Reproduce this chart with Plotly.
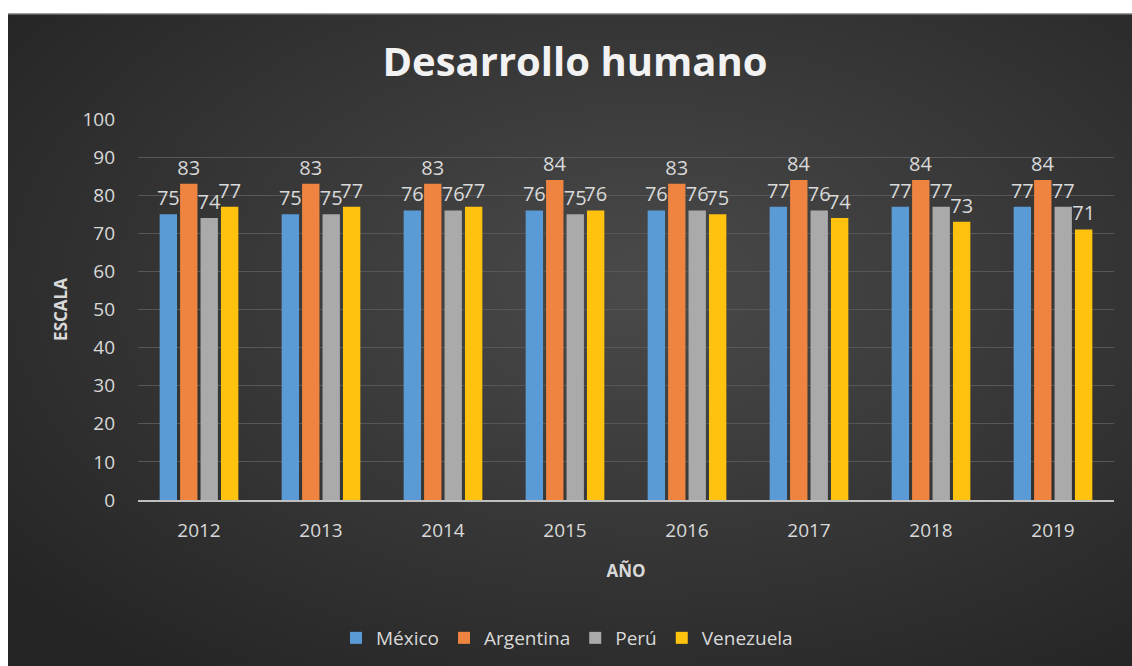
import base64
import plotly.graph_objects as go

years = ["2012", "2013", "2014", "2015", "2016", "2017", "2018", "2019"]
mexico = [75, 75, 76, 76, 76, 77, 77, 77]
argentina = [83, 83, 83, 84, 83, 84, 84, 84]
peru = [74, 75, 76, 75, 76, 76, 77, 77]
venezuela = [77, 77, 77, 76, 75, 74, 73, 71]

series = [
    ("México", mexico, "#5b9bd5"),
    ("Argentina", argentina, "#ef8440"),
    ("Perú", peru, "#aaaaaa"),
    ("Venezuela", venezuela, "#ffc20e"),
]

W, H = 1132, 666
ml, mr, mt, mb = 138, 18, 119, 166
pw, ph = W - ml - mr, H - mt - mb
left_gap, top_gap = 8, 13
extra = 30  # let the background run past the right/bottom edge

# dark radial background like the Excel style
bw, bh = W - left_gap + extra, H - top_gap + extra
svg = f"""<svg xmlns='http://www.w3.org/2000/svg' width='{bw}' height='{bh}' viewBox='0 0 {bw} {bh}' preserveAspectRatio='none'>
<defs><radialGradient id='g' cx='55%' cy='40%' r='70%'>
<stop offset='0%' stop-color='#4a4a4a'/><stop offset='100%' stop-color='#252525'/>
</radialGradient></defs>
<rect width='{bw}' height='{bh}' fill='url(#g)'/>
<rect width='{bw}' height='1.5' fill='#9a9a9a'/></svg>"""
bg = "data:image/svg+xml;base64," + base64.b64encode(svg.encode()).decode()

fig = go.Figure()
for name, vals, col in series:
    fig.add_trace(go.Bar(
        x=years, y=vals, name=name,
        marker=dict(color=col, line=dict(width=0)),
        text=vals, textposition="outside",
        textfont=dict(color="#d9d9d9", size=20),
        constraintext="none", cliponaxis=False,
    ))

# white page strip on the top and left, as in the screenshot
strips = [
    dict(type="rect", xref="paper", yref="paper", layer="above", line=dict(width=0),
         fillcolor="white", x0=-ml / pw - 0.01, x1=1 + mr / pw + 0.01,
         y0=1 + (mt - top_gap) / ph, y1=1 + mt / ph + 0.01),
    dict(type="rect", xref="paper", yref="paper", layer="above", line=dict(width=0),
         fillcolor="white", x0=-ml / pw - 0.01, x1=(left_gap - ml) / pw,
         y0=-mb / ph - 0.01, y1=1 + mt / ph + 0.01),
]

fig.update_layout(
    width=W, height=H,
    margin=dict(l=ml, r=mr, t=mt, b=mb),
    paper_bgcolor="#282828",
    plot_bgcolor="rgba(0,0,0,0)",
    font=dict(family="Open Sans, sans-serif", color="#d9d9d9", size=18),
    title=dict(text="<b>Desarrollo humano</b>", x=575 / W, xanchor="center",
               y=1 - 62 / H, yanchor="middle",
               font=dict(size=40, color="#f2f2f2", family="Open Sans")),
    barmode="group", bargap=0.33, bargroupgap=0.15,
    showlegend=True,
    legend=dict(orientation="h", xref="container", yref="container",
                x=567 / W, xanchor="center", y=1 - 638 / H, yanchor="middle",
                font=dict(size=19, color="#d9d9d9"), bgcolor="rgba(0,0,0,0)",
                traceorder="normal"),
    images=[dict(source=bg, xref="paper", yref="paper",
                 x=(left_gap - ml) / pw, y=1 + (mt - top_gap) / ph,
                 sizex=bw / pw, sizey=bh / ph,
                 sizing="stretch", xanchor="left", yanchor="top", layer="below")],
    shapes=strips,
)
fig.update_yaxes(range=[0, 100], dtick=10, gridcolor="#575757", gridwidth=1,
                 zeroline=False, showline=False, ticks="", ticklabelstandoff=22,
                 tickfont=dict(size=19, color="#d9d9d9"),
                 title=dict(text="<b>ESCALA</b>", font=dict(size=17, color="#d9d9d9"), standoff=10))
fig.update_xaxes(showline=True, linecolor="#bfbfbf", linewidth=2, ticks="",
                 ticklabelstandoff=12,
                 tickfont=dict(size=19, color="#d9d9d9"),
                 title=dict(text="<b>AÑO</b>", font=dict(size=17, color="#d9d9d9"), standoff=23))

# drop the default page margin and scrollbars so the figure fills the window
page_js = (
    "document.documentElement.style.overflow='hidden';"
    "document.body.style.overflow='hidden';"
    "document.body.style.margin='0';"
    "document.body.style.background='#282828';"
)
fig.write_html("out.html", config={"displayModeBar": False}, post_script=page_js)
